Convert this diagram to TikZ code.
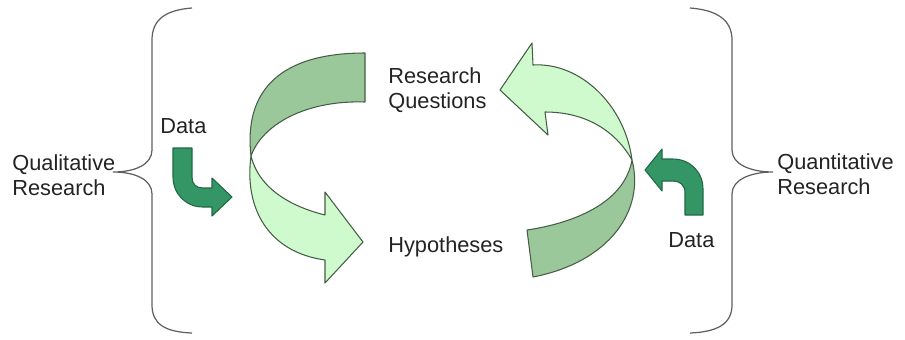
\documentclass[tikz,border=0pt]{standalone}
\usepackage{fontspec}
\setmainfont{Liberation Sans}

\definecolor{ribbonlight}{RGB}{206,250,206}
\definecolor{ribbondark}{RGB}{155,200,155}
\definecolor{ribbonedge}{RGB}{70,92,70}
\definecolor{datafill}{RGB}{52,150,100}
\definecolor{dataedge}{RGB}{32,104,68}
\definecolor{bracegray}{RGB}{95,95,95}
\definecolor{txtgray}{RGB}{35,35,35}

\begin{document}
\begin{tikzpicture} [
    x=0.02cm, y=-0.02cm,
    txt/.style={inner sep=0pt, align=left, text=txtgray,
        font=\fontsize{12.4}{14.5}\selectfont},
    curly/.style={draw=bracegray, line width=0.7pt},
    ribbon front/.style={fill=ribbonlight, draw=ribbonedge, line width=0.6pt, line join=round},
    ribbon back/.style={fill=ribbondark, draw=ribbonedge, line width=0.6pt, line join=round},
    data arrow/.style={fill=datafill, draw=dataedge, line width=0.6pt, line join=round}]

\useasboundingbox (0,0) rectangle (905,339);

% Braces
\draw [curly] (192,8) .. controls (165,10) and (152,20) .. (152,40)
    -- (152,150) .. controls (152,164) and (136,172) .. (113,172)
    .. controls (136,172) and (152,180) .. (152,194)
    -- (152,305) .. controls (152,324) and (165,332) .. (192,333);
\draw [curly] (690,8) .. controls (717,10) and (732,20) .. (732,40)
    -- (732,150) .. controls (732,164) and (750,172) .. (773,172)
    .. controls (750,172) and (732,180) .. (732,194)
    -- (732,305) .. controls (732,324) and (717,332) .. (690,333);

% Left cycle arrow: back then front
\draw [ribbon back] (365,53) -- (365,102)
    .. controls (305,100) and (262,125) .. (251,156)
    .. controls (244,95) and (275,53) .. (365,53) -- cycle;
\draw [ribbon front] (251,156) .. controls (244,208) and (268,252) .. (325,260)
    -- (325,283) -- (363,242) -- (325,192) -- (325,215)
    .. controls (285,205) and (258,185) .. (251,156) -- cycle;

% Right cycle arrow: back then front
\draw [ribbon back] (632,160) .. controls (645,210) and (610,262) .. (533,277)
    -- (527,230) .. controls (580,222) and (625,200) .. (632,160) -- cycle;
\draw [ribbon front] (632,160) .. controls (625,105) and (580,62) .. (533,65)
    -- (532,43) -- (500,90) -- (548,135) -- (545,112)
    .. controls (585,112) and (615,130) .. (632,160) -- cycle;

% Data arrows
\draw [data arrow] (173,148) -- (192,148) -- (192,177)
    .. controls (192,184) and (196,188) .. (203,188) -- (212,188)
    -- (212,178) -- (232,197) -- (212,216) -- (212,207) -- (203,207)
    .. controls (186,207) and (173,194) .. (173,177) -- cycle;
\draw [data arrow] (685,215) -- (685,193)
    .. controls (685,185) and (680,181) .. (673,181) -- (662,181)
    -- (662,191) -- (645,170) -- (662,149) -- (662,159) -- (673,159)
    .. controls (690,159) and (703,172) .. (703,189) -- (703,215) -- cycle;

% Labels
\node (qual) [txt, anchor=west] at (12,175) {Qualitative\\Research};
\node (quant) [txt, anchor=west] at (777,174) {Quantitative\\Research};
\node (rq) [txt, anchor=west] at (388,90) {Research\\Questions};
\node (hyp) [txt, anchor=base west] at (388,252) {Hypotheses};
\node (dataL) [txt, anchor=base west] at (160,133) {Data};
\node (dataR) [txt, anchor=base west] at (668,247) {Data};
\end{tikzpicture}
\end{document}
